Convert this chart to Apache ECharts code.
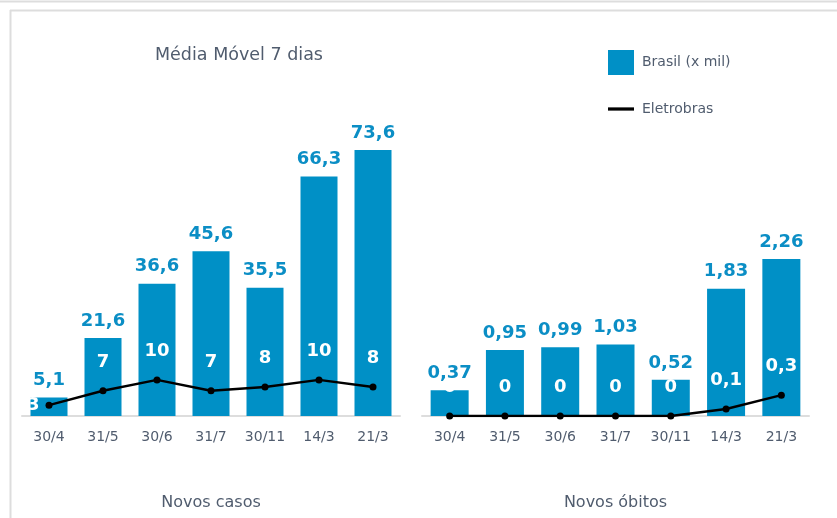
<!DOCTYPE html>
<html>
<head>
<meta charset="utf-8">
<script src="https://cdn.jsdelivr.net/npm/echarts@6/dist/echarts.min.js"></script>
<style>
  html, body { margin: 0; padding: 0; background: #fff; }
  #main { width: 837px; height: 518px; }
</style>
</head>
<body>
<div id="main"></div>
<script>
var datas = ['30/4', '31/5', '30/6', '31/7', '30/11', '14/3', '21/3'];

// Novos casos
var casosBrasil = [5.1, 21.6, 36.6, 45.6, 35.5, 66.3, 73.6];
var casosEletrobras = [3, 7, 10, 7, 8, 10, 8];

// Novos obitos
var obitosBrasil = [0.37, 0.95, 0.99, 1.03, 0.52, 1.83, 2.26];
var obitosEletrobras = [0, 0, 0, 0, 0, 0.1, 0.3];

var azul = '#0090c6';
var cinzaTexto = '#505c6e';
var fonte = 'DejaVu Sans';

function virgula(p) {
    return String(p.value).replace('.', ',');
}

var chartDom = document.getElementById('main');
var myChart = echarts.init(chartDom);
var option;

var xBase = {
    type: 'category',
    data: datas,
    nameLocation: 'middle',
    nameGap: 79,
    nameTextStyle: { color: cinzaTexto, fontSize: 16, fontFamily: fonte },
    axisLine: { lineStyle: { color: '#dddddd', width: 2 } },
    axisTick: { show: false },
    axisLabel: { color: cinzaTexto, fontSize: 14, fontFamily: fonte, margin: 14 }
};

var labelBarra = {
    show: true,
    position: 'top',
    distance: 8,
    color: '#0b8ec5',
    fontSize: 18,
    fontWeight: 'bold',
    fontFamily: fonte,
    formatter: virgula
};

var labelLinha = {
    show: true,
    position: 'top',
    distance: 16,
    color: '#ffffff',
    fontSize: 18,
    fontWeight: 'bold',
    fontFamily: fonte,
    formatter: virgula
};

option = {
    animation: false,
    title: {
        text: 'Média Móvel 7 dias',
        left: 234,
        top: 41,
        textAlign: 'center',
        textStyle: { color: cinzaTexto, fontSize: 17.5, fontWeight: 'normal', fontFamily: fonte }
    },
    legend: {
        orient: 'vertical',
        left: 603,
        top: 45,
        itemWidth: 26,
        itemHeight: 25,
        itemGap: 27,
        textStyle: { color: cinzaTexto, fontSize: 14, fontFamily: fonte, padding: [0, 0, 0, 3] },
        data: [
            { name: 'Brasil (x mil)', icon: 'rect' },
            { name: 'Eletrobras', icon: 'path://M0,0H32V4H0Z', itemStyle: { color: '#000' } }
        ]
    },
    graphic: [
        { type: 'line', shape: { x1: 0, y1: 1.5, x2: 837, y2: 1.5 }, style: { stroke: '#dddddd', lineWidth: 2 } },
        { type: 'line', shape: { x1: 10, y1: 10.5, x2: 837, y2: 10.5 }, style: { stroke: '#dddddd', lineWidth: 2 } },
        { type: 'line', shape: { x1: 10.5, y1: 10, x2: 10.5, y2: 518 }, style: { stroke: '#dddddd', lineWidth: 2 } }
    ],
    grid: [
        { left: 22, width: 378, top: 127, bottom: 102 },
        { left: 422, width: 387, top: 124, bottom: 102 }
    ],
    xAxis: [
        Object.assign({}, xBase, { gridIndex: 0, name: 'Novos casos' }),
        Object.assign({}, xBase, { gridIndex: 1, name: 'Novos óbitos' })
    ],
    yAxis: [
        { gridIndex: 0, type: 'value', min: 0, max: 80, show: false },
        { gridIndex: 1, type: 'value', min: 0, max: 4.2, show: false }
    ],
    series: [
        {
            name: 'Brasil (x mil)',
            type: 'bar',
            xAxisIndex: 0,
            yAxisIndex: 0,
            barWidth: 37,
            itemStyle: { color: azul },
            label: labelBarra,
            data: casosBrasil
        },
        {
            name: 'Eletrobras',
            type: 'line',
            xAxisIndex: 0,
            yAxisIndex: 0,
            symbol: 'circle',
            symbolSize: 7,
            itemStyle: { color: '#000' },
            lineStyle: { color: '#000', width: 2.5 },
            label: labelLinha,
            data: casosEletrobras.map(function (v, i) {
                if (i === 0) {
                    return { value: v, label: { position: 'left', distance: 6 } };
                }
                return v;
            })
        },
        {
            name: 'Brasil (x mil)',
            type: 'bar',
            xAxisIndex: 1,
            yAxisIndex: 1,
            barWidth: 38,
            itemStyle: { color: azul },
            label: labelBarra,
            data: obitosBrasil
        },
        {
            name: 'Eletrobras',
            type: 'line',
            xAxisIndex: 1,
            yAxisIndex: 1,
            symbol: 'circle',
            symbolSize: 7,
            itemStyle: { color: '#000' },
            lineStyle: { color: '#000', width: 2.5 },
            label: labelLinha,
            data: obitosEletrobras
        }
    ]
};

option && myChart.setOption(option);
</script>
</body>
</html>
